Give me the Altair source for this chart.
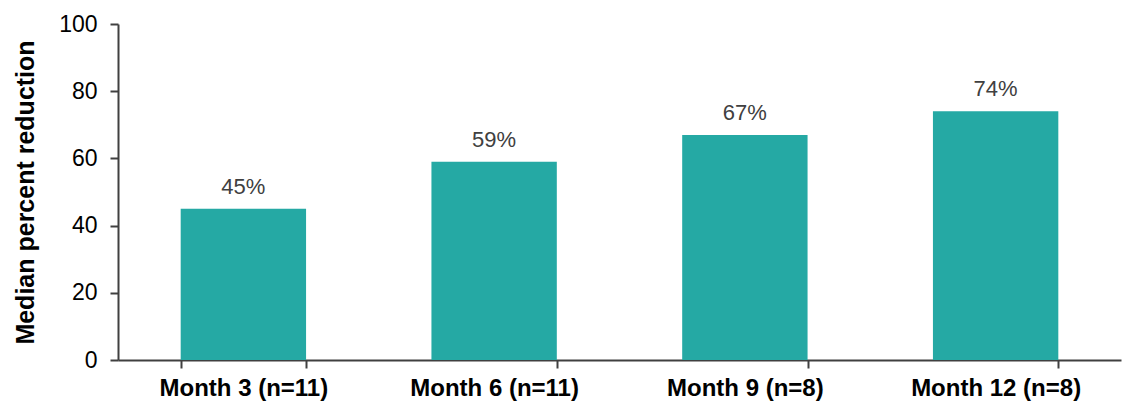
import altair as alt
import pandas as pd

categories = ["Month 3 (n=11)", "Month 6 (n=11)", "Month 9 (n=8)", "Month 12 (n=8)"]
values = [45, 59, 67, 74]
labels = ["45%", "59%", "67%", "74%"]

df = pd.DataFrame({"cat": categories, "val": values, "lab": labels})

x = alt.X("cat:N", sort=categories, title=None,
          scale=alt.Scale(paddingInner=0.5, paddingOuter=0.25),
          axis=alt.Axis(labelAngle=0, labelFont="Liberation Sans", labelFontSize=24,
                        labelFontWeight="bold", labelColor="#000000", labelPadding=8,
                        tickBand="extent", tickSize=8, tickWidth=2, tickColor="#404040",
                        domainColor="#404040", domainWidth=2))

bars = alt.Chart(df).mark_bar(color="#25A9A4").encode(
    x=x,
    y=alt.Y("val:Q", title="Median percent reduction",
            scale=alt.Scale(domain=[0, 100]),
            axis=alt.Axis(values=[0, 20, 40, 60, 80, 100], grid=False,
                          labelFont="Liberation Sans", labelFontSize=23, labelColor="#000000",
                          labelPadding=13, tickSize=8, tickWidth=2, tickColor="#404040",
                          domainColor="#404040", domainWidth=2,
                          titleFont="Liberation Sans", titleFontSize=25, titleFontWeight="bold",
                          titleColor="#000000", titlePadding=20)),
)

text = alt.Chart(df).mark_text(font="Liberation Sans", fontSize=22, color="#404040",
                               baseline="bottom", dy=-10).encode(
    x=alt.X("cat:N", sort=categories),
    y="val:Q",
    text="lab:N",
)

chart = (bars + text).properties(
    width=1003, height=336,
    padding={"left": 5, "top": 5, "right": 5, "bottom": 5},
).configure_view(stroke=None)

chart.save("out.html", embed_options={"renderer": "svg", "actions": False})
